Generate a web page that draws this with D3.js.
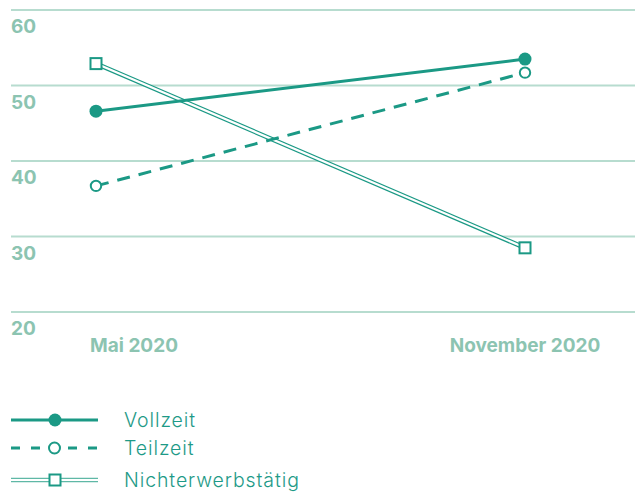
<!DOCTYPE html>
<meta charset="utf-8">
<style>
body { margin: 0; background: #fff; }
svg text { font-family: Inter, "Noto Sans", sans-serif; }
.grid line { stroke: #b7dccf; stroke-width: 2px; }
.ylab, .xlab { fill: #8cc4b1; font-weight: 700; font-size: 19px; }
.leg text { fill: #1e9a87; font-size: 19.5px; font-weight: 300; letter-spacing: 0.9px; }
</style>
<svg width="635" height="494"></svg>
<script src="https://d3js.org/d3.v7.min.js"></script>
<script>

var periods = ["Mai 2020", "November 2020"];
var yTicks = [20, 30, 40, 50, 60];
var vollzeit = [46.6, 53.5];
var teilzeit = [36.7, 51.7];
var nichterwerbstaetig = [52.9, 28.5];

var teal = "#1b9985";

var svg = d3.select("svg");

var x = d3.scalePoint().domain(periods).range([96, 525]);
var y = d3.scaleLinear().domain([20, 60]).range([312, 10]);

// grid + labels under each line
var grid = svg.append("g").attr("class", "grid");
grid.selectAll("line")
  .data(yTicks)
  .enter().append("line")
    .attr("x1", 11).attr("x2", 635)
    .attr("y1", function(d) { return y(d); })
    .attr("y2", function(d) { return y(d); });

svg.selectAll(".ylab")
  .data(yTicks)
  .enter().append("text")
    .attr("class", "ylab")
    .attr("x", 11)
    .attr("y", function(d) { return y(d) + 23; })
    .text(function(d) { return d; });

svg.selectAll(".xlab")
  .data(periods)
  .enter().append("text")
    .attr("class", "xlab")
    .attr("x", function(d, i) { return i ? x(d) : x(d) - 6; })
    .attr("y", 352)
    .attr("text-anchor", function(d, i) { return i ? "middle" : "start"; })
    .text(function(d) { return d; });

var line = d3.line()
    .x(function(d, i) { return x(periods[i]); })
    .y(function(d) { return y(d); });

// Nichterwerbstätig: double line
svg.append("path").datum(nichterwerbstaetig)
    .attr("d", line).attr("fill", "none")
    .attr("stroke", teal).attr("stroke-width", 4.6);
svg.append("path").datum(nichterwerbstaetig)
    .attr("d", line).attr("fill", "none")
    .attr("stroke", "#fff").attr("stroke-width", 2.2);

// Vollzeit
svg.append("path").datum(vollzeit)
    .attr("d", line).attr("fill", "none")
    .attr("stroke", teal).attr("stroke-width", 3);

// Teilzeit
svg.append("path").datum(teilzeit)
    .attr("d", line).attr("fill", "none")
    .attr("stroke", teal).attr("stroke-width", 3)
    .attr("stroke-dasharray", "13,9");

svg.selectAll(".sq")
  .data(nichterwerbstaetig)
  .enter().append("rect")
    .attr("x", function(d, i) { return x(periods[i]) - 5.5; })
    .attr("y", function(d) { return y(d) - 5.5; })
    .attr("width", 11).attr("height", 11)
    .attr("fill", "#fff").attr("stroke", teal).attr("stroke-width", 2);

svg.selectAll(".vz")
  .data(vollzeit)
  .enter().append("circle")
    .attr("cx", function(d, i) { return x(periods[i]); })
    .attr("cy", function(d) { return y(d); })
    .attr("r", 6.5).attr("fill", teal);

svg.selectAll(".tz")
  .data(teilzeit)
  .enter().append("circle")
    .attr("cx", function(d, i) { return x(periods[i]); })
    .attr("cy", function(d) { return y(d); })
    .attr("r", 5.2).attr("fill", "#fff")
    .attr("stroke", teal).attr("stroke-width", 2);

// legend
var leg = svg.append("g").attr("class", "leg");
var items = ["Vollzeit", "Teilzeit", "Nichterwerbstätig"];
var ly = [420, 448, 480];

leg.append("line").attr("x1", 11).attr("x2", 98).attr("y1", ly[0]).attr("y2", ly[0])
    .attr("stroke", teal).attr("stroke-width", 3);
leg.append("circle").attr("cx", 55).attr("cy", ly[0]).attr("r", 6.5).attr("fill", teal);

// dashed sample: two dashes either side of the marker
[[11, 40], [68, 98]].forEach(function(s) {
  leg.append("line").attr("x1", s[0]).attr("x2", s[1]).attr("y1", ly[1]).attr("y2", ly[1])
      .attr("stroke", teal).attr("stroke-width", 3).attr("stroke-dasharray", "9,11");
});
leg.append("circle").attr("cx", 54.5).attr("cy", ly[1]).attr("r", 5.5)
    .attr("fill", "#fff").attr("stroke", teal).attr("stroke-width", 2);

leg.append("line").attr("x1", 11).attr("x2", 98).attr("y1", ly[2]).attr("y2", ly[2])
    .attr("stroke", "#5fb8a6").attr("stroke-width", 4.6);
leg.append("line").attr("x1", 11).attr("x2", 98).attr("y1", ly[2]).attr("y2", ly[2])
    .attr("stroke", "#fff").attr("stroke-width", 2.2);
leg.append("rect").attr("x", 49.5).attr("y", ly[2] - 5.5).attr("width", 11).attr("height", 11)
    .attr("fill", "#fff").attr("stroke", teal).attr("stroke-width", 2);

leg.selectAll("text")
  .data(items)
  .enter().append("text")
    .attr("x", 124)
    .attr("y", function(d, i) { return ly[i] + 7; })
    .text(function(d) { return d; });

</script>
